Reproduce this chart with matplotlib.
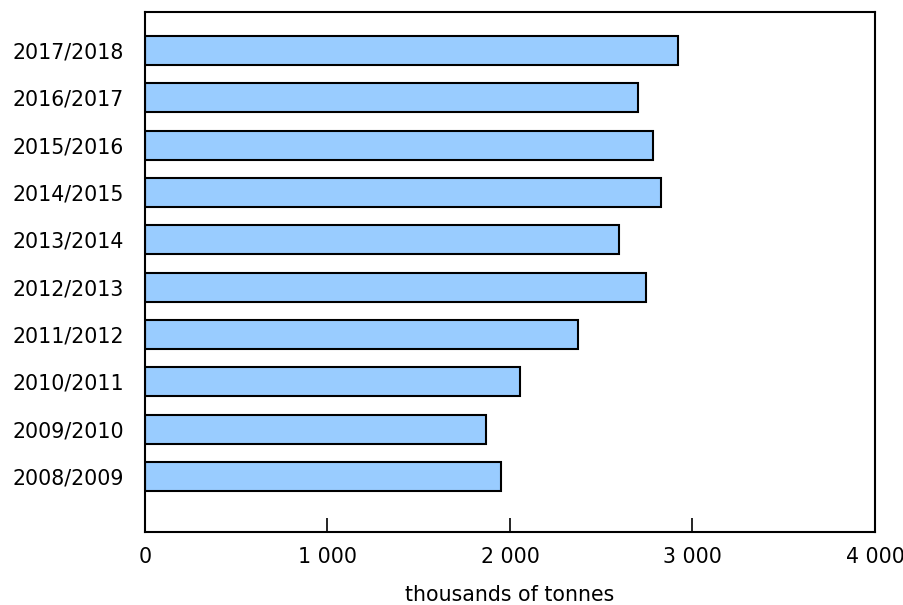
import numpy as np
import matplotlib
matplotlib.use("Agg")
import matplotlib.pyplot as plt
from matplotlib.ticker import FuncFormatter

# crop years, oldest first (plotted bottom to top)
years = ["2008/2009", "2009/2010", "2010/2011", "2011/2012", "2012/2013",
         "2013/2014", "2014/2015", "2015/2016", "2016/2017", "2017/2018"]
tonnes = [1951, 1868, 2057, 2373, 2743, 2600, 2826, 2782, 2701, 2922]
xticks = [0, 1000, 2000, 3000, 4000]

plt.rcParams['font.family'] = ['DejaVu Sans']

fig = plt.figure(figsize=(9.04, 6.05), dpi=100)
ax = fig.add_axes([0.1604, 0.1207, 0.8075, 0.8595])

pos = np.arange(len(years))
ax.barh(pos, tonnes, height=0.61, color='#99CCFF', edgecolor='black', linewidth=1.5)

ax.set_xlim(0, 4000)
ax.set_ylim(-1.17, 9.81)
ax.set_yticks(pos)
ax.set_yticklabels(years, fontsize=14.8)
ax.tick_params(axis='y', length=0, pad=15)

ax.set_xticks(xticks)
ax.xaxis.set_major_formatter(FuncFormatter(lambda v, p: f"{int(v):,}".replace(",", " ")))
ax.tick_params(axis='x', direction='in', length=10, width=1.2, labelsize=14.8, pad=11)

for s in ax.spines.values():
    s.set_linewidth(1.5)

ax.set_xlabel("thousands of tonnes", fontsize=14.8, labelpad=13)

fig.savefig("out.png", dpi=100)
